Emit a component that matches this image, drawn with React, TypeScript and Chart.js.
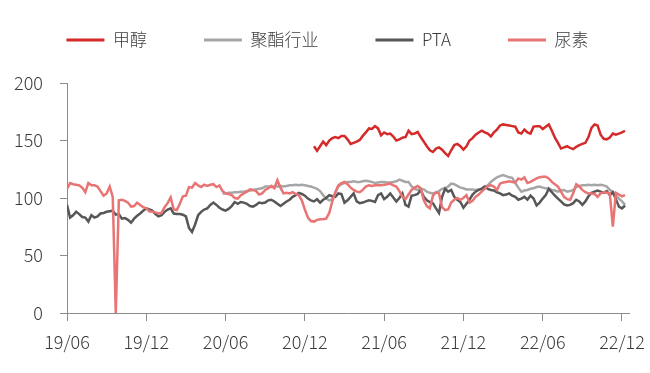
import { useEffect, useRef } from 'react';
import { Chart, registerables } from 'chart.js';

Chart.register(...registerables);

// ---- data (weekly index from 19/06) ----
const SERIES_NAMES = ['甲醇', '聚酯行业', 'PTA', '尿素'];
const TICK_LABELS = ['19/06', '19/12', '20/06', '20/12', '21/06', '21/12', '22/06', '22/12'];
const WEEKS_PER_TICK = 26;
const X_MAX = 184.3;

const METHANOL_START = 81;
const METHANOL = [
  145, 141, 145, 149, 146, 150, 152, 153, 152,
  154, 154, 151, 147, 148, 149, 150.5, 154, 157, 160.5,
  160, 162.5, 160.5, 154.5, 157, 155.5, 156, 153.5, 150, 151,
  152.5, 153, 158.5, 155.5, 156, 157.5, 153, 149, 145, 141.5,
  140, 143, 144, 142, 139, 136.5, 141.5, 146, 147, 145,
  142, 145, 150, 152, 155, 157, 158.5, 157, 156, 153.5,
  157, 159.5, 163, 164, 163.5, 163, 162.5, 162, 157, 156,
  159.5, 157, 156, 162, 162.5, 162.5, 160, 162, 164, 158.5,
  152.5, 148, 143, 144, 145, 143.5, 142.5, 144.5, 146, 147,
  148, 153, 161, 164, 163, 155, 151.5, 151, 152.5, 156,
  155, 156, 157, 158.5,
];

const POLYESTER_START = 51;
const POLYESTER = [
  104, 104, 104.5, 104.5, 105, 105, 105.5, 105.5, 106,
  106.5, 107, 107.5, 108, 108.5, 110, 110, 109.5, 110, 110,
  110.5, 110, 110.5, 111, 111, 111.5, 111, 111.5, 111, 110.5,
  110, 109, 108, 106, 102.5, 99.5, 98, 99, 105, 110,
  112, 113, 114, 114, 114.5, 114, 114, 114.5, 115, 114.5,
  114, 113, 113.5, 114, 114, 113.5, 113.5, 114, 114.5, 116,
  115, 114, 114, 110, 108, 107, 108, 107.5, 105.5, 104.5,
  104, 104.5, 106, 108, 108.5, 110, 112.5, 112, 110.5, 109,
  108.5, 107.5, 107.5, 107.5, 107, 107.5, 108, 110, 111, 114,
  116, 118, 119, 120, 119, 118, 117.5, 113, 109, 105.5,
  106.5, 107, 108, 108.5, 109.5, 110, 109, 108.5, 108, 107,
  106.5, 105.5, 106.5, 107, 105.5, 106, 107, 109.5, 110.5, 111,
  111, 111.5, 111, 111.5, 111, 111.5, 111, 110, 107, 105.5,
  102, 99.5, 97, 94,
];

const PTA_START = 0;
const PTA = [
  94, 83, 85, 88, 86, 83.5, 83, 79.5, 85, 83,
  84, 86.5, 87, 88, 88.5, 89, 85.5, 86, 82, 82.5,
  81, 78.5, 82, 84.5, 86.5, 89, 91, 90, 89, 86,
  84, 85, 88, 90, 91, 86.5, 86, 86, 85.5, 84,
  74, 70.5, 77, 85, 88, 90, 91, 94, 96, 94,
  91.5, 90, 89, 90.5, 93, 96.5, 95, 96.5, 96, 95,
  93, 92.5, 94, 96, 95.5, 96, 98, 98.5, 97, 95,
  93, 95, 97, 98.5, 101, 102.5, 104.5, 103.5, 102, 99.5,
  98, 97, 99, 96, 98.5, 100, 102.5, 101.5, 101, 104,
  103.5, 96, 98, 101, 104, 97, 95.5, 96, 97, 98,
  97.5, 96.5, 102.5, 104, 99, 101, 104, 100.5, 97, 100,
  104, 94, 92.5, 102, 102.5, 103.5, 107, 101, 98, 96.5,
  95.5, 91, 87, 101, 108, 105.5, 107, 101, 98.5, 96.5,
  91.5, 95, 98.5, 103, 105.5, 107, 108, 110, 108, 107,
  106.5, 105, 104, 102.5, 103, 104, 102, 101, 98.5, 99.5,
  101, 98.5, 102, 99.5, 93.5, 96, 99.5, 102.5, 108, 105,
  102, 99.5, 97, 94.5, 93.5, 94, 95.5, 98.5, 97, 94,
  97, 101.5, 104.5, 105.5, 106.5, 105.5, 104.5, 106, 102.5, 105,
  99, 92.5, 91, 93.5,
];

const UREA_START = 0;
const UREA = [
  108, 113, 112, 111.5, 111, 109, 105, 113, 111, 111,
  110, 106, 102, 104, 110, 101, 0, 98, 98.5, 97.5,
  96, 92.5, 93, 96, 94, 92, 91, 88.5, 88, 87.5,
  86.5, 87, 92, 95.5, 100.5, 90, 89.5, 95, 101.5, 102,
  109.5, 109, 113, 111, 109.5, 111.5, 110.5, 111.5, 112, 109.5,
  111, 106, 104, 103.5, 102.5, 100, 99.5, 102.5, 104, 105.5,
  107.5, 107, 106, 103, 104, 107, 108.5, 110.5, 108.5, 115.5,
  109, 104, 104.5, 104, 105, 103.5, 102.5, 98, 90, 83,
  80, 79.5, 81, 81.5, 81.5, 82, 87, 97, 105, 111,
  113, 114, 112, 109, 107, 105.5, 105, 107, 110, 111,
  110.5, 111, 111, 111, 111.5, 112, 112.5, 111, 110, 106,
  101, 99, 103, 107, 109, 110.5, 108.5, 98, 93, 91,
  102, 105, 104, 92, 89.5, 90, 96, 98.5, 100, 98.5,
  100, 102.5, 96, 97.5, 101, 103, 105.5, 108, 110.5, 111,
  110, 107, 112.5, 113.5, 114, 114.5, 114, 113.5, 117, 116,
  118, 113, 114, 115.5, 117, 118, 118.5, 118.5, 117, 114,
  112, 110, 105.5, 101, 99, 98.5, 104, 112, 110, 107,
  105, 104, 104, 103.5, 101, 104, 105, 104.5, 104, 75,
  104.5, 103, 101.5, 102.5,
];

const Y_TICKS = { min: 0, max: 200, step: 50 };

// ---- styles ----
const FONT = '"Noto Sans CJK SC", "Noto Sans", sans-serif';
const FONT_WEIGHT = '300';
const TEXT_COLOR = '#3a3a3a';
const AXIS_COLOR = '#8c8c8c';
const COLORS = ['#d42a2a', '#a6a6a6', '#575757', '#e87474'];
const LEGEND_PAD = 57;
const LAYOUT_TOP = -25.5;
const CHART_TOP = 83;

const toPoints = (start: number, vals: number[]) => vals.map((v, i) => ({ x: start + i, y: v }));

const legendSpacer = {
  id: 'legendSpacer',
  beforeLayout(chart: any) {
    const lg = chart.legend;
    if (lg && !lg.__spaced) {
      const orig = lg.fit.bind(lg);
      lg.fit = () => {
        orig();
        lg.height = CHART_TOP - LAYOUT_TOP;
      };
      lg.__spaced = true;
    }
  },
};

export default function App() {
  const ref = useRef<HTMLCanvasElement | null>(null);

  useEffect(() => {
    if (!ref.current) return;
    const seriesData = [
      toPoints(METHANOL_START, METHANOL),
      toPoints(POLYESTER_START, POLYESTER),
      toPoints(PTA_START, PTA),
      toPoints(UREA_START, UREA),
    ];
    const chart = new Chart(ref.current, {
      type: 'line',
      data: {
        datasets: SERIES_NAMES.map((name, i) => ({
          label: name,
          data: seriesData[i],
          borderColor: COLORS[i],
          backgroundColor: COLORS[i],
          borderWidth: 2.5,
          pointRadius: 0,
          tension: 0,
          order: 4 - i,
        })),
      },
      options: {
        animation: false,
        responsive: false,
        maintainAspectRatio: false,
        devicePixelRatio: 1,
        layout: { padding: { top: LAYOUT_TOP, left: 5, right: 0, bottom: 0 } },
        plugins: {
          tooltip: { enabled: false },
          legend: {
            position: 'top',
            align: 'center',
            labels: {
              boxWidth: 38,
              boxHeight: 3,
              padding: LEGEND_PAD,
              color: TEXT_COLOR,
              font: { family: FONT, size: 17, weight: FONT_WEIGHT },
              sort: (a: any, b: any) => a.datasetIndex - b.datasetIndex,
              generateLabels: (c: any) =>
                (Chart.defaults.plugins.legend.labels.generateLabels as any)(c).map((l: any) => ({
                  ...l,
                  lineWidth: 0,
                })),
            },
          },
        },
        scales: {
          x: {
            type: 'linear',
            min: 0,
            max: X_MAX,
            afterBuildTicks: (s: any) => {
              s.ticks = TICK_LABELS.map((_, i) => ({ value: i * WEEKS_PER_TICK }));
            },
            afterFit: (s: any) => {
              s.height = 60;
              s.paddingLeft = 0;
              s.paddingRight = 21;
            },
            ticks: {
              autoSkip: false,
              maxRotation: 0,
              padding: 10,
              color: TEXT_COLOR,
              font: { family: FONT, size: 18, weight: FONT_WEIGHT },
              callback: (v: any) => TICK_LABELS[Math.round(Number(v) / WEEKS_PER_TICK)],
            },
            grid: { drawOnChartArea: false, drawTicks: true, tickLength: 8, tickColor: AXIS_COLOR },
            border: { display: true, color: AXIS_COLOR, width: 1 },
          },
          y: {
            min: Y_TICKS.min,
            max: Y_TICKS.max,
            afterFit: (s: any) => {
              s.width = 62;
              s.paddingTop = 0;
              s.paddingBottom = 0;
            },
            ticks: {
              stepSize: Y_TICKS.step,
              padding: 17,
              color: TEXT_COLOR,
              font: { family: FONT, size: 18, weight: FONT_WEIGHT },
            },
            grid: { drawOnChartArea: false, drawTicks: true, tickLength: 7, tickColor: AXIS_COLOR },
            border: { display: true, color: AXIS_COLOR, width: 1 },
          },
        },
      },
      plugins: [legendSpacer],
    } as any);
    return () => chart.destroy();
  }, []);

  return (
    <div style={{ position: 'fixed', left: 0, top: 0, width: 650, height: 373, background: '#fff' }}>
      <canvas ref={ref} width={650} height={373} />
    </div>
  );
}
